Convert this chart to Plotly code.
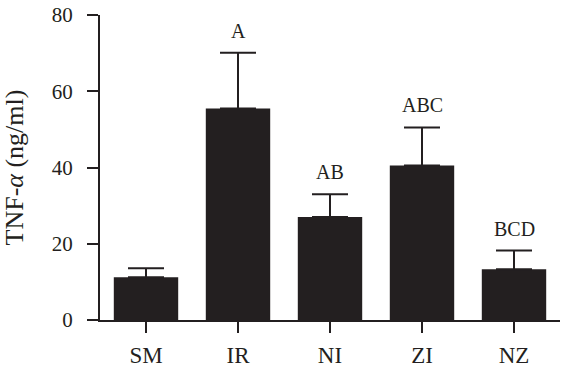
import plotly.graph_objects as go

categories = ["SM", "IR", "NI", "ZI", "NZ"]
means = [11.2, 55.5, 27.0, 40.5, 13.3]
errors = [2.4, 14.6, 6.0, 10.0, 4.9]
letters = ["", "A", "AB", "ABC", "BCD"]
y_ticks = [0, 20, 40, 60, 80]

ink = "#231f20"
font_family = "Liberation Serif, Times New Roman, serif"

fig = go.Figure()
fig.add_trace(go.Bar(
    x=categories, y=means,
    marker=dict(color=ink, line=dict(width=0)),
    width=0.7,
    error_y=dict(type="data", array=errors, arrayminus=[0]*len(errors), symmetric=False,
                 color=ink, thickness=2, width=18),
))

for c, m, e, t in zip(categories, means, errors, letters):
    if t:
        fig.add_annotation(x=c, y=m + e, text=t, showarrow=False, yanchor="bottom",
                           yshift=9, font=dict(family=font_family, size=20, color=ink))

fig.update_layout(
    width=562, height=372,
    margin=dict(l=100, r=2, t=15, b=52),
    plot_bgcolor="white", paper_bgcolor="white",
    showlegend=False,
    font=dict(family=font_family, size=20, color=ink),
)
fig.update_xaxes(
    range=[-0.5, 4.5], showline=True, linecolor=ink, linewidth=2,
    ticks="outside", ticklen=11, tickwidth=2, tickcolor=ink,
    showgrid=False, zeroline=False, tickfont=dict(size=23),
    ticklabelstandoff=2,
)
fig.update_yaxes(
    range=[0, 80], tickvals=y_ticks, showline=True, linecolor=ink, linewidth=2,
    ticks="outside", ticklen=11, tickwidth=2, tickcolor=ink,
    showgrid=False, zeroline=False, tickfont=dict(size=21),
    ticklabelstandoff=10,
    title=dict(text="TNF-<i>α</i> (ng/ml)", font=dict(size=26), standoff=26),
)

fig.write_html("out.html", config={"displayModeBar": False},
               post_script="document.body.style.margin='0';")
